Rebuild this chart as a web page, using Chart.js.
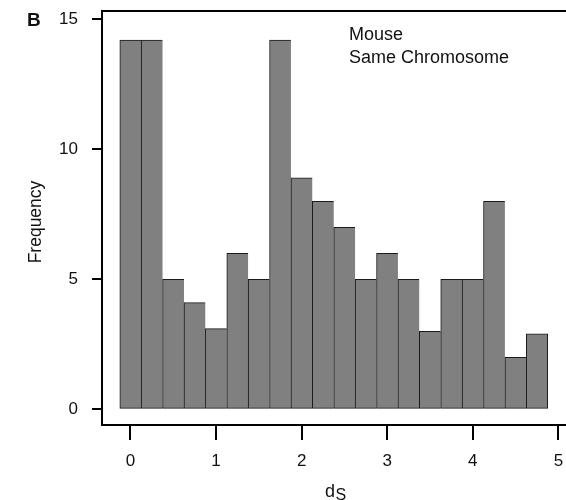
<!DOCTYPE html>
<html>
<head>
<meta charset="utf-8">
<script src="https://cdn.jsdelivr.net/npm/chart.js@4/dist/chart.umd.min.js"></script>
<style>
  html, body { margin: 0; padding: 0; background: #fff; }
  #wrap { width: 566px; height: 500px; }
</style>
</head>
<body>
<div id="wrap"><canvas id="c" width="566" height="500"></canvas></div>
<script>
// Bin centres of ds (bin width 0.25)
const binCenters = [0, 0.25, 0.5, 0.75, 1, 1.25, 1.5, 1.75, 2, 2.25, 2.5, 2.75, 3, 3.25, 3.5, 3.75, 4, 4.25, 4.5, 4.75];
// Frequency
const frequency = [14.2, 14.2, 5, 4.1, 3.1, 6, 5, 14.2, 8.9, 8, 7, 5, 6, 5, 3, 5, 5, 8, 2, 2.9];
const xTickValues = [0, 1, 2, 3, 4, 5];
const yTickValues = [0, 5, 10, 15];
const panelLabel = 'B';
const annotationLines = ['Mouse', 'Same Chromosome'];
const yTitle = 'Frequency';
const xTitleMain = 'd';
const xTitleSub = 'S';

const FONT = '"Liberation Sans", Arial, Helvetica, sans-serif';
const TEXT = '#111';

const lastIdx = frequency.length - 1;

const decor = {
  id: 'decor',
  afterDraw(chart) {
    const ctx = chart.ctx;
    const a = chart.chartArea;
    ctx.save();
    // top frame line
    ctx.strokeStyle = '#000';
    ctx.lineWidth = 2;
    ctx.beginPath();
    ctx.moveTo(a.left - 1, a.top);
    ctx.lineTo(a.right, a.top);
    ctx.stroke();

    ctx.fillStyle = TEXT;
    // panel label
    ctx.font = 'bold 19px ' + FONT;
    ctx.textAlign = 'left';
    ctx.textBaseline = 'alphabetic';
    ctx.fillText(panelLabel, 27, 26);

    // annotation
    ctx.font = '18px ' + FONT;
    ctx.fillText(annotationLines[0], 349, 40);
    ctx.fillText(annotationLines[1], 349, 63);

    // y title
    ctx.save();
    ctx.translate(41, 222);
    ctx.rotate(-Math.PI / 2);
    ctx.textAlign = 'center';
    ctx.font = '17.5px ' + FONT;
    ctx.fillText(yTitle, 0, 0);
    ctx.restore();

    // x title with subscript
    ctx.font = '18px ' + FONT;
    ctx.textAlign = 'left';
    ctx.fillText(xTitleMain, 325, 497);
    const dw = ctx.measureText(xTitleMain).width;
    ctx.font = '16px ' + FONT;
    ctx.fillText(xTitleSub, 325 + dw + 0.5, 500);
    ctx.restore();
  }
};

new Chart(document.getElementById('c'), {
  type: 'bar',
  data: {
    datasets: [{
      data: binCenters.map((x, i) => ({ x: x, y: frequency[i] })),
      backgroundColor: '#808080',
      borderColor: '#1a1a1a',
      borderWidth: (c) => ({ top: 1, bottom: 1, left: 1, right: c.dataIndex === lastIdx ? 1 : 0 }),
      borderSkipped: false,
      barPercentage: 1,
      categoryPercentage: 1
    }]
  },
  options: {
    responsive: false,
    animation: false,
    layout: { padding: { top: 11, right: 0, bottom: 0, left: 0 } },
    plugins: { legend: { display: false }, tooltip: { enabled: false } },
    scales: {
      x: {
        type: 'linear',
        offset: false,
        min: -0.333,
        max: 5.089,
        afterBuildTicks: (s) => { s.ticks = xTickValues.map(v => ({ value: v })); },
        afterFit: (s) => { s.height = 75; s.paddingLeft = 0; s.paddingRight = 0; },
        grid: { display: true, offset: false, drawOnChartArea: false, drawTicks: true, tickLength: 15, color: '#000', lineWidth: 2 },
        border: { display: true, color: '#000', width: 2 },
        ticks: { color: TEXT, font: { family: FONT, size: 17 }, padding: 11, maxRotation: 0, autoSkip: false }
      },
      y: {
        type: 'linear',
        min: -0.604,
        max: 15.32,
        afterBuildTicks: (s) => { s.ticks = yTickValues.map(v => ({ value: v })); },
        afterFit: (s) => { s.width = 102; s.paddingTop = 0; s.paddingBottom = 0; },
        grid: { display: true, drawOnChartArea: false, drawTicks: true, tickLength: 10, color: '#000', lineWidth: 2 },
        border: { display: true, color: '#000', width: 2 },
        ticks: { color: TEXT, font: { family: FONT, size: 17 }, padding: 14, autoSkip: false }
      }
    }
  },
  plugins: [decor]
});
</script>
</body>
</html>
